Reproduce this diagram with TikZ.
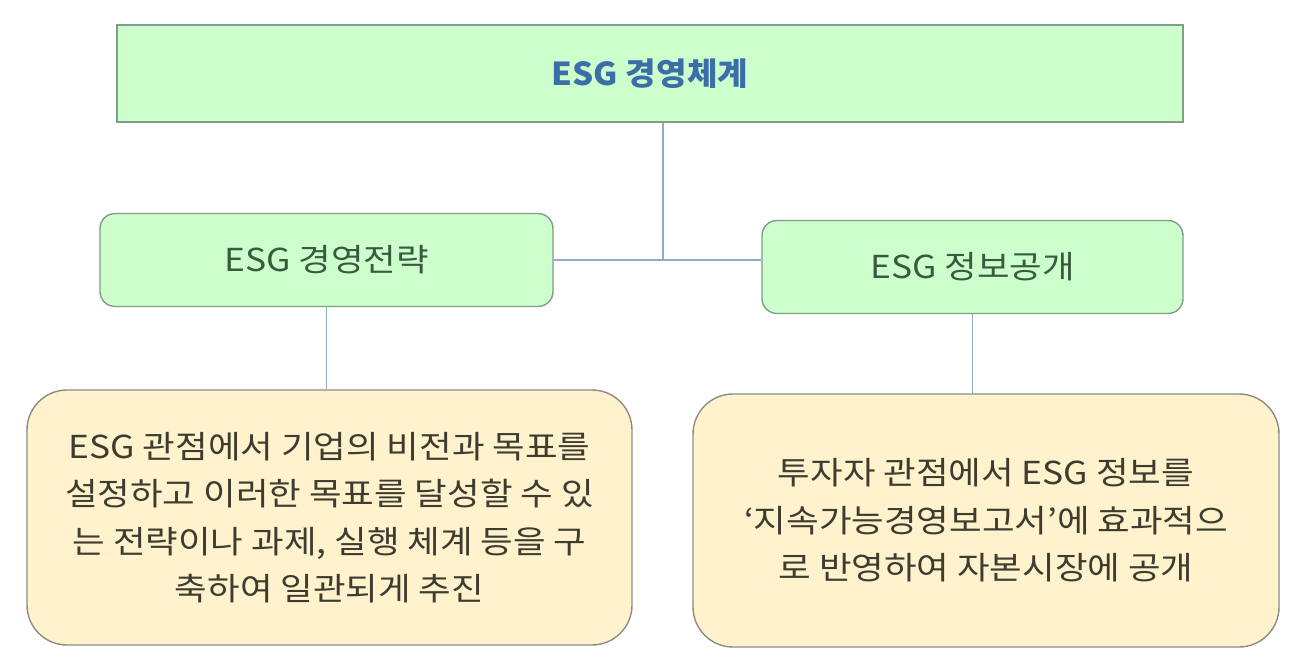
\documentclass[tikz,border=0pt]{standalone}
\usepackage{fontspec}
\setmainfont{Noto Sans CJK KR}
\newfontfamily\wideko[FakeStretch=1.12]{Noto Sans CJK KR}
\newfontfamily\titleko[FakeStretch=1.05]{Noto Sans CJK KR}
\usepackage{tikz}
\usetikzlibrary{positioning}
\definecolor{boxgreen}{HTML}{CCFFCC}
\definecolor{boxyellow}{HTML}{FFF2CC}
\definecolor{greenline}{HTML}{7E9E88}
\definecolor{grayline}{HTML}{8C8C86}
\definecolor{linkblue}{HTML}{8FAAC6}
\definecolor{titleblue}{HTML}{3B6EA8}
\definecolor{midtext}{HTML}{3A5A40}
\definecolor{lowtext}{HTML}{3C3C30}
\tikzset{
  topbox/.style={
    rectangle,
    fill=boxgreen,
    draw=greenline, thick,
    minimum width=21.32cm,
    minimum height=1.94cm,
    text=titleblue,
    font=\titleko\fontsize{18}{22}\selectfont\bfseries},
  stratbox/.style={
    rectangle,
    rounded corners=0.3cm,
    fill=boxgreen,
    draw=greenline, thick,
    minimum height=1.86cm,
    text=midtext,
    font=\wideko\fontsize{18}{22}\selectfont},
  descbox/.style={
    rectangle,
    rounded corners=0.8cm,
    fill=boxyellow,
    draw=grayline, thick,
    text=lowtext,
    align=center,
    font=\wideko\fontsize{18}{27}\selectfont},
  link/.style={draw=linkblue, thick},
}
\begin{document}
\begin{tikzpicture}
\useasboundingbox (0,0) rectangle (26.18,-13.18);
\node[topbox] (esg) at (13.0,-1.47) {ESG 경영체계};
\node[stratbox, minimum width=9.06cm] (strat) at (6.53,-5.2) {ESG 경영전략};
\node[stratbox, minimum width=8.42cm] (disc) at (19.45,-5.34) {ESG 정보공개};
\node[descbox, minimum width=12.1cm, minimum height=5.1cm] (stratdesc) at (6.59,-10.35)
  {ESG 관점에서 기업의 비전과 목표를\\설정하고 이러한 목표를 달성할 수 있\\는 전략이나 과제, 실행 체계 등을 구\\축하여 일관되게 추진};
\node[descbox, minimum width=11.72cm, minimum height=5.06cm] (discdesc) at (19.72,-10.41)
  {투자자 관점에서 ESG 정보를\\‘지속가능경영보고서’에 효과적으\\로 반영하여 자본시장에 공개};
\coordinate (hub) at (13.26,0 |- strat.east);
\draw[link] (esg.south -| hub) -- (hub);
\draw[link] (strat.east) -- (disc.west |- strat.east);
\draw[link] (strat.south) -- (stratdesc.north -| strat.south);
\draw[link] (disc.south) -- (discdesc.north -| disc.south);
\end{tikzpicture}
\end{document}
